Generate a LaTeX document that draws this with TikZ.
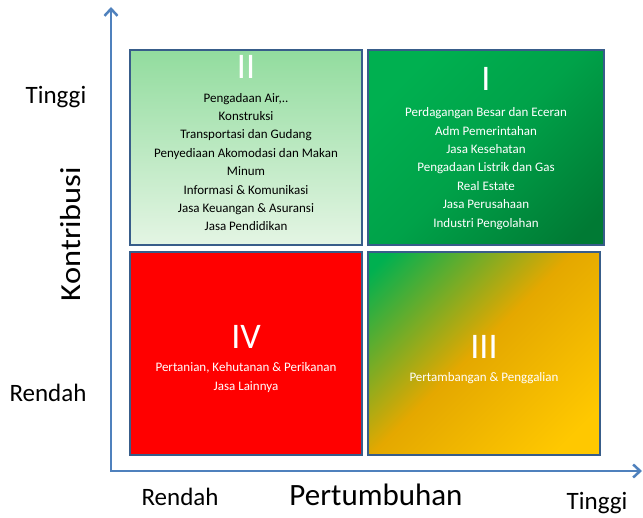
\documentclass[tikz,border=0pt]{standalone}
\usepackage{fontspec}
\setmainfont{Carlito}
\usetikzlibrary{arrows.meta,positioning}

\definecolor{axisblue}{RGB}{79,129,189}
\definecolor{edgeblue}{RGB}{56,93,138}
\definecolor{lightgreen}{RGB}{146,220,158}
\definecolor{palegreen}{RGB}{228,245,228}
\definecolor{midgreen}{RGB}{0,176,80}
\definecolor{shadegreen}{RGB}{0,162,73}
\definecolor{darkgreen}{RGB}{0,122,52}
\definecolor{quadorange}{RGB}{228,168,0}
\definecolor{quadyellow}{RGB}{255,200,0}

\pgfdeclareverticalshading{shadeI}{100bp}{color(0bp)=(darkgreen); color(20bp)=(darkgreen); color(50bp)=(shadegreen); color(75bp)=(midgreen); color(100bp)=(midgreen)}
\pgfdeclareverticalshading{shadeIII}{100bp}{color(0bp)=(quadyellow); color(22bp)=(quadyellow); color(52bp)=(quadorange); color(82bp)=(midgreen); color(100bp)=(midgreen)}

\tikzset{
	quad/.style={draw=edgeblue, line width=1.5pt, inner sep=0pt, minimum width=232pt},
	numeral/.style={font=\fontsize{36}{36}\selectfont, text=white},
	sectors/.style={align=center, font=\fontsize{13}{18.4}\selectfont},
	axislabel/.style={font=\fontsize{25}{25}\selectfont},
	axistitle/.style={font=\fontsize{31}{31}\selectfont}
}

\begin{document}
\begin{tikzpicture}[x=1pt, y=-1pt, >={Straight Barb[length=7pt,width=13pt]}]
		%\draw [help lines, step=50] (0,0) grid (643,518);
		\useasboundingbox (0,0) rectangle (643,518);
		% quadrants
		\node [quad, minimum height=195pt, top color=lightgreen, bottom color=palegreen] (qII) at (246,147.5) {};
		\node [quad, minimum width=236pt, minimum height=195pt, shading=shadeI, shading angle=45] (qI) at (486,147.5) {};
		\node [quad, minimum height=203pt, fill=red] (qIV) at (246,353.5) {};
		\node [quad, minimum height=203pt, shading=shadeIII, shading angle=45] (qIII) at (484,353.5) {};
		% numerals and sectors
		\node [numeral] (nII) at (246,67) {II};
		\node [sectors] (sII) at (246,162) {Pengadaan Air,..\\Konstruksi\\Transportasi dan Gudang\\Penyediaan Akomodasi dan Makan\\Minum\\Informasi \& Komunikasi\\Jasa Keuangan \& Asuransi\\Jasa Pendidikan};
		\node [numeral] (nI) at (486,79) {I};
		\node [sectors, text=white] (sI) at (486,168.5) {Perdagangan Besar dan Eceran\\Adm Pemerintahan\\Jasa Kesehatan\\Pengadaan Listrik dan Gas\\Real Estate\\Jasa Perusahaan\\Industri Pengolahan};
		\node [numeral] (nIV) at (246,337) {IV};
		\node [sectors, text=white] (sIV) at (246,377.5) {Pertanian, Kehutanan \& Perikanan\\Jasa Lainnya};
		\node [numeral] (nIII) at (484,347) {III};
		\node [sectors, text=white] (sIII) at (484,378) {Pertambangan \& Penggalian};
		% axes
		\coordinate (ytop) at (111,7);
		\coordinate (origin) at (111,471);
		\coordinate (xend) at (642,471);
		\draw [<->, axisblue, line width=2.5pt] (ytop) -- (origin) -- (xend);
		\node [axislabel] (yhigh) at (56,97) {Tinggi};
		\node [axislabel] (ylow) at (48,393) {Rendah};
		\node [axistitle, font=\fontsize{29}{29}\selectfont, rotate=90, xscale=1.12] (ytitle) at (71,234) {Kontribusi};
		\node [axislabel] (xlow) at (180,497) {Rendah};
		\node [axistitle] (xtitle) at (376,495) {Pertumbuhan};
		\node [axislabel] (xhigh) at (597,503) {Tinggi};
	\end{tikzpicture}
\end{document}
